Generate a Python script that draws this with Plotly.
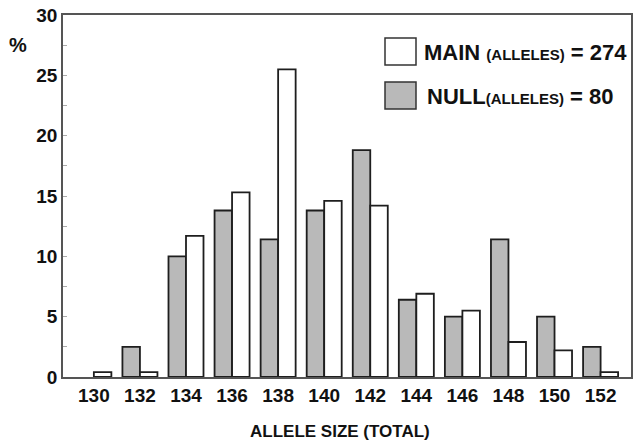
import plotly.graph_objects as go

categories = ["130", "132", "134", "136", "138", "140", "142", "144", "146", "148", "150", "152"]
null_values = [None, 2.5, 10.0, 13.8, 11.4, 13.8, 18.8, 6.4, 5.0, 11.4, 5.0, 2.5]
main_values = [0.4, 0.4, 11.7, 15.3, 25.5, 14.6, 14.2, 6.9, 5.5, 2.9, 2.2, 0.4]
y_ticks = [0, 5, 10, 15, 20, 25, 30]

FONT = "Liberation Sans, Arial, sans-serif"

fig = go.Figure()
fig.add_trace(go.Bar(
    x=categories, y=null_values, name="NULL",
    marker=dict(color="#b9b9b9", line=dict(color="#1e1e1e", width=1.8)),
))
fig.add_trace(go.Bar(
    x=categories, y=main_values, name="MAIN",
    marker=dict(color="#ffffff", line=dict(color="#1e1e1e", width=1.8)),
))

fig.update_layout(
    width=633, height=443,
    margin=dict(l=63, r=2, t=15, b=66, autoexpand=False),
    paper_bgcolor="white", plot_bgcolor="white",
    barmode="group", bargap=0.24, bargroupgap=0,
    showlegend=False,
    font=dict(family=FONT, color="#111111"),
)
fig.update_xaxes(
    type="category", range=[-0.67, 11.66], automargin=False,
    showline=True, linecolor="#555555", linewidth=1.5, mirror=True,
    ticks="", showgrid=False,
    tickfont=dict(size=19, family=FONT, color="#111111", weight="bold"),
)
fig.update_yaxes(
    range=[0, 30], tickvals=y_ticks, ticktext=[str(v) for v in y_ticks], automargin=False,
    showline=True, linecolor="#555555", linewidth=1.5, mirror=True,
    ticks="inside", ticklen=4, tickcolor="#aaaaaa",
    minor=dict(dtick=2.5, ticks="inside", ticklen=4, tickcolor="#aaaaaa", showgrid=False),
    showgrid=False, zeroline=False,
    tickfont=dict(size=19, family=FONT, color="#111111", weight="bold"),
)

# legend boxes
fig.add_shape(type="rect", xref="paper", yref="paper",
              x0=(385-63)/568, x1=(416-63)/568, y0=(377-65)/362, y1=(377-38)/362,
              fillcolor="white", line=dict(color="#333333", width=1.5))
fig.add_shape(type="rect", xref="paper", yref="paper",
              x0=(385-63)/568, x1=(416-63)/568, y0=(377-109)/362, y1=(377-82)/362,
              fillcolor="#b9b9b9", line=dict(color="#333333", width=1.5))

fig.add_annotation(xref="paper", yref="paper", x=(422-63)/568, y=(377-52)/362,
                   xanchor="left", yanchor="middle", showarrow=False,
                   text="<b>MAIN</b> <span style='font-size:15px'><b>(ALLELES)</b></span><b> = 274</b>",
                   font=dict(size=22, family=FONT, color="#111111"))
fig.add_annotation(xref="paper", yref="paper", x=(425-63)/568, y=(377-96)/362,
                   xanchor="left", yanchor="middle", showarrow=False,
                   text="<b>NULL</b><span style='font-size:15px'><b>(ALLELES)</b></span><b> = 80</b>",
                   font=dict(size=22, family=FONT, color="#111111"))

# y label
fig.add_annotation(xref="paper", yref="paper", x=(18-63)/568, y=(377-45)/362,
                   xanchor="center", yanchor="middle", showarrow=False,
                   text="<b>%</b>", font=dict(size=20, family=FONT, color="#111111"))
# x title
fig.add_annotation(xref="paper", yref="paper", x=(340-63)/568, y=-(432-377)/362,
                   xanchor="center", yanchor="middle", showarrow=False,
                   text="<b>ALLELE SIZE (TOTAL)</b>", font=dict(size=17, family=FONT, color="#111111"))

fig.write_html("out.html", config={"displayModeBar": False},
               post_script="document.body.style.margin='0';document.body.style.padding='0';")
